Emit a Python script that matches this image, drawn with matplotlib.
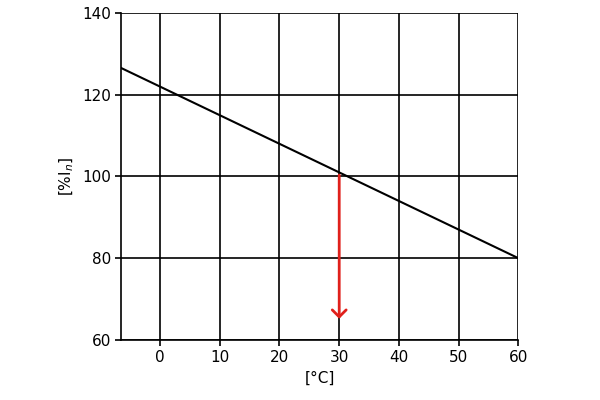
import matplotlib.pyplot as plt

temp = [-6.5, 60]
current = [126.5, 80]
arrow_x = 30
arrow_top = 101
arrow_bottom = 64.5
xticks = [0, 10, 20, 30, 40, 50, 60]
yticks = [60, 80, 100, 120, 140]

fig = plt.figure(figsize=(6, 4), dpi=100)
ax = fig.add_axes([0.202, 0.15, 0.662, 0.818])
ax.set_xlim(temp[0], 60)
ax.set_ylim(60, 140)
ax.set_xticks(xticks)
ax.set_yticks(yticks)
ax.grid(True, color='black', linewidth=1.2)
for s in ['top', 'right']:
    ax.spines[s].set_visible(False)
ax.spines['left'].set_linewidth(1.2)
ax.spines['bottom'].set_linewidth(1.2)
ax.tick_params(direction='out', length=4, width=1.2, labelsize=11)

ax.plot(temp, current, color='black', linewidth=1.5)
ax.annotate('', xy=(arrow_x, arrow_bottom), xytext=(arrow_x, arrow_top),
            arrowprops=dict(arrowstyle='->,head_width=0.5,head_length=0.5',
                            color='#e0201b', linewidth=2))

ax.set_xlabel('[°C]', fontsize=11)
ax.set_ylabel('[%I$_n$]', fontsize=11)
fig.savefig('out.png')
